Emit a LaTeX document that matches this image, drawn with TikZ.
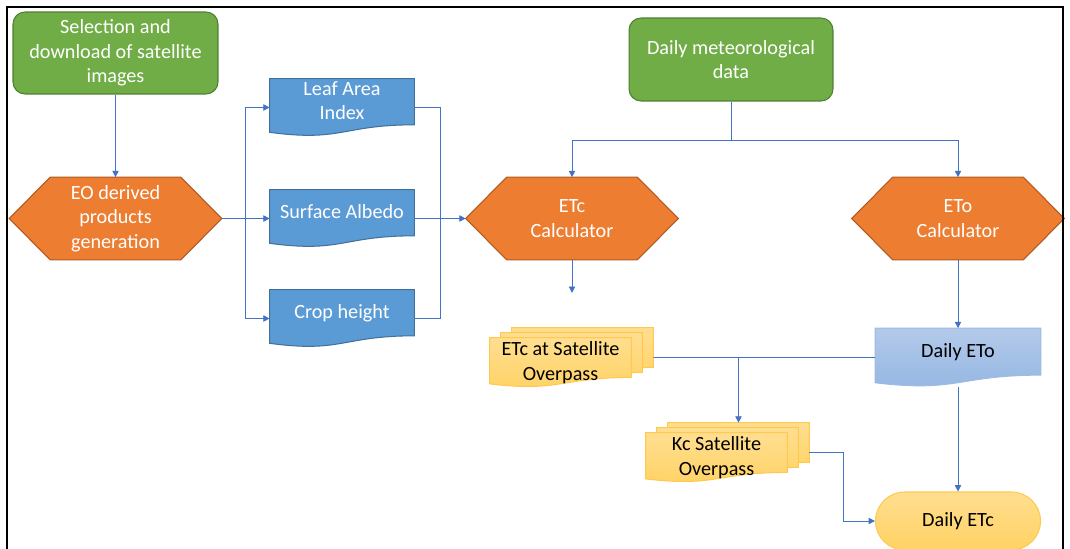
\documentclass[tikz,border=0pt]{standalone}
\usepackage{fontspec}
\setmainfont{Carlito}
\usetikzlibrary{calc,positioning,arrows.meta,backgrounds}

\definecolor{srcgreen}{HTML}{70AD47}
\definecolor{srcgreenline}{HTML}{507E32}
\definecolor{calcorange}{HTML}{ED7D31}
\definecolor{calcorangeline}{HTML}{AE5A21}
\definecolor{docblue}{HTML}{5B9BD5}
\definecolor{docblueline}{HTML}{41719C}
\definecolor{goldtop}{HTML}{FFDE90}
\definecolor{goldbottom}{HTML}{FFD263}
\definecolor{goldline}{HTML}{FFC94F}
\definecolor{flowblue}{HTML}{4472C4}
\definecolor{etotop}{HTML}{B4CAEA}
\definecolor{etobottom}{HTML}{92B6E2}
\definecolor{etoline}{HTML}{9DBBE3}

% Outline of a flowchart hexagon around a node.
\newcommand{\hexpath}[1]{(#1.west) -- ($(#1.north west)+(41,0)$) -- ($(#1.north east)+(-41,0)$) -- (#1.east) -- ($(#1.south east)+(-41,0)$) -- ($(#1.south west)+(41,0)$) -- cycle}
% Outline of a document (wavy bottom) around a node.
\newcommand{\docpath}[1]{(#1.north west) -- (#1.north east) -- ($(#1.north east)!0.8!(#1.south east)$) .. controls ($(#1.north)!0.8!(#1.south)$) and ($(#1.north)!1.1!(#1.south)$) .. ($(#1.north west)!0.93!(#1.south west)$) -- cycle}

\tikzset{
    box/.style={align=center, font=\fontsize{11.5}{14}\selectfont, inner sep=0pt},
    source/.style={box, rectangle, rounded corners=0.24cm, fill=srcgreen, draw=srcgreenline,
        line width=0.6pt, text=white, minimum width=4.1cm, minimum height=1.64cm},
    hexnode/.style={box, text=white, minimum width=4.24cm, minimum height=1.64cm},
    hexfill/.style={fill=calcorange, draw=calcorangeline, line width=0.6pt},
    bluedoc/.style={box, text=white, text depth=8pt, minimum width=2.88cm, minimum height=1.14cm},
    bluefill/.style={fill=docblue, draw=docblueline, line width=0.6pt},
    etodoc/.style={box, text depth=8pt, minimum width=3.3cm, minimum height=1.16cm},
    sheetdoc/.style={box, minimum width=2.82cm, minimum height=0.98cm},
    goldfill/.style={top color=goldtop, bottom color=goldbottom, draw=goldline, line width=0.6pt},
    terminal/.style={box, rectangle, rounded corners=0.58cm, goldfill,
        minimum width=3.3cm, minimum height=1.16cm},
    wire/.style={draw=flowblue, line width=0.45pt},
    flow/.style={wire, -{Triangle[length=3.6pt,width=3.6pt]}}
}

\begin{document}
\begin{tikzpicture}[x=0.02cm,y=-0.02cm]

    \useasboundingbox (0,0) rectangle (1070,548);
    \clip (0,0) rectangle (1070,548);

    % Inputs.
    \node[source] (sel) at (115.5,53) {Selection and\\download of satellite\\images};
    \node[source, minimum width=4.08cm, minimum height=1.66cm] (met) at (731,59.5) {Daily meteorological\\data};

    % Calculators.
    \node[hexnode] (eo) at (115.5,218.5) {EO derived\\products\\generation};
    \node[hexnode] (etc) at (572,218.5) {ETc\\Calculator};
    \node[hexnode] (eto) at (958,218.5) {ETo\\Calculator};

    % EO derived products.
    \node[bluedoc] (lai) at (342,107.5) {Leaf Area\\Index};
    \node[bluedoc] (alb) at (342,218.5) {Surface Albedo};
    \node[bluedoc] (crop) at (342,318.5) {Crop height};

    % Results.
    \node[etodoc] (etoday) at (958,357.5) {Daily ETo};
    \node[sheetdoc] (etcsat) at (560.5,362.5) {ETc at Satellite\\Overpass};
    \node[sheetdoc] (kcsat) at (716.5,457.5) {Kc Satellite\\Overpass};
    \node[terminal] (etcday) at (958,521) {Daily ETc};

    % Shapes behind the texts.
    \begin{scope}[on background layer]
        \foreach \n in {eo,etc,eto}
            \path[hexfill] \hexpath{\n};
        \foreach \n in {lai,alb,crop}
            \path[bluefill] \docpath{\n};
        \path[top color=etotop, bottom color=etobottom, draw=etoline, line width=0.6pt] \docpath{etoday};
        \foreach \n in {etcsat,kcsat} {
            \path[goldfill, transform canvas={shift={(22,-10)}}] \docpath{\n};
            \path[goldfill, transform canvas={shift={(11,-5)}}] \docpath{\n};
            \path[goldfill] \docpath{\n};
        }
    \end{scope}

    % Connectors.
    \coordinate (split) at ($(eo.east)!0.5!(alb.west)$);
    \coordinate (merge) at ($(alb.east)!0.5!(etc.west)$);
    \coordinate (fork) at ($(met.south)+(0,39)$);
    \coordinate (etcend) at ($(etc.south)+(0,33)$);
    \coordinate (etcsatout) at ([xshift=0.44cm,yshift=0.1cm]etcsat.east);
    \coordinate (kcsatin) at ([xshift=0.44cm,yshift=0.2cm]kcsat.north);
    \coordinate (kcsatout) at ([xshift=0.44cm,yshift=0.1cm]kcsat.east);

    \draw[flow] (sel.south) -- (eo.north);
    \draw[flow] (eo.east) -- (alb.west);
    \draw[flow] (split) |- (lai.west);
    \draw[flow] (split) |- (crop.west);
    \draw[wire] (lai.east) -| (merge);
    \draw[wire] (crop.east) -| (merge);
    \draw[flow] (alb.east) -- (etc.west);

    \draw[wire] (met.south) -- (fork);
    \draw[flow] (fork) -| (etc.north);
    \draw[flow] (fork) -| (eto.north);

    \draw[flow] (etc.south) -- (etcend);
    \draw[flow] (eto.south) -- (etoday.north);
    \draw[flow] (etoday.south) -- (etcday.north);

    \draw[wire] (etcsatout) -- (etoday.west);
    \draw[flow] (kcsatin |- etcsatout) -- (kcsatin);
    \draw[flow] (kcsatout) -- ++(34,0) |- (etcday.west);

    % Frame.
    \draw[line width=1.2pt] (7,7) rectangle (1063,600);

\end{tikzpicture}
\end{document}
